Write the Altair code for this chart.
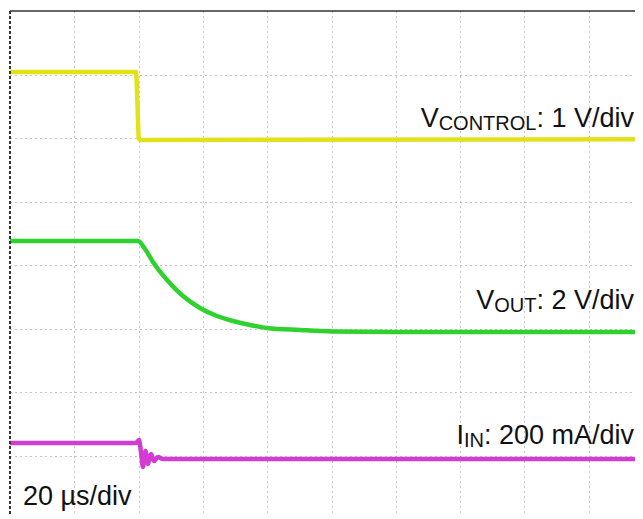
import altair as alt
import pandas as pd

# Oscilloscope screen, in divisions: x = 20 µs/div, y = 8 vertical divisions (0 = bottom)
ctrl_t = [0.0, 1.96, 1.97, 2.0, 2.02, 9.85]
ctrl_v = [7.04, 7.04, 6.90, 6.00, 5.97, 5.98]

vout_t = [0.0, 1.991, 2.100, 2.224, 2.442, 2.690, 2.955, 3.219, 3.468, 3.733, 3.997, 4.510, 5.023, 6.065, 9.85]
vout_v = [4.378, 4.378, 4.252, 4.047, 3.764, 3.512, 3.323, 3.197, 3.118, 3.055, 3.008, 2.976, 2.953, 2.945, 2.945]

iin_t = [0.0, 1.96, 2.006, 2.037, 2.068, 2.107, 2.146, 2.193, 2.240, 2.300, 2.380, 9.85]
iin_v = [1.197, 1.197, 1.244, 1.055, 0.819, 1.070, 0.866, 1.023, 0.913, 0.976, 0.945, 0.945]

series = ["VCONTROL", "VOUT", "IIN"]
colors = ["#e2e21c", "#2ed12e", "#d23cd2"]

x_grid = [1, 2, 3, 4, 5, 6, 7, 8, 9]
y_grid = [1, 2, 3, 4, 5, 6, 7]

def frame(name, t, v):
    return pd.DataFrame({"t": t, "v": v, "series": name, "order": range(len(t))})

W, H = 625, 505
PX_X, PX_Y = 64.3, 63.5
xs = alt.Scale(domain=[0, W / PX_X], nice=False, zero=False)
ys = alt.Scale(domain=[8 - H / PX_Y, 8], nice=False, zero=False)
cs = alt.Scale(domain=series, range=colors)

grid_axis = dict(grid=True, gridDash=[1, 4], gridColor="#8c8c8c", gridWidth=1,
                 labels=False, ticks=False, domain=False, title=None)

def trace(df, interp):
    return alt.Chart(df).mark_line(strokeWidth=4.5, clip=True, strokeJoin="round",
                                   interpolate=interp).encode(
        x=alt.X("t:Q", scale=xs, axis=alt.Axis(values=x_grid, **grid_axis)),
        y=alt.Y("v:Q", scale=ys, axis=alt.Axis(values=y_grid, **grid_axis)),
        color=alt.Color("series:N", scale=cs, legend=None),
        order="order:Q",
    )

ctrl = trace(frame("VCONTROL", ctrl_t, ctrl_v), "linear")
vout = trace(frame("VOUT", vout_t, vout_v), "monotone")
iin = trace(frame("IIN", iin_t, iin_v), "monotone")

dummy = alt.Data(values=[{"a": 1}])
top_line = alt.Chart(dummy).mark_rule(color="#333", strokeWidth=1.5).encode(
    x=alt.value(0), x2=alt.value(W), y=alt.value(0))
left_line = alt.Chart(dummy).mark_rule(color="#333", strokeWidth=2, strokeDash=[3, 2]).encode(
    x=alt.value(0), y=alt.value(0), y2=alt.value(H))

F, S = 27, 20
FONT = "Liberation Sans"
TXT = "#111"

def txt(s, x, y, size):
    return alt.Chart(dummy).mark_text(text=s, align="left", baseline="alphabetic",
                                      font=FONT, fontSize=size, color=TXT).encode(
        x=alt.value(x), y=alt.value(y))

def label(main, sub, rest, w_main, w_sub, w_rest, right, base):
    total = w_main * F + w_sub * S + w_rest * F
    x0 = right - total
    return [txt(main, x0, base, F),
            txt(sub, x0 + w_main * F, base + 3, S),
            txt(rest, x0 + w_main * F + w_sub * S, base, F)]

RIGHT = 624
texts = []
texts += label("V", "CONTROL", ": 1 V/div", 0.667, 4.889, 3.613, RIGHT, 116)
texts += label("V", "OUT", ": 2 V/div", 0.667, 2.111, 3.613, RIGHT, 298)
texts += label("I", "IN", ": 200 mA/div", 0.278, 1.0, 5.558, RIGHT, 433)
texts.append(txt("20 µs/div", 13, 494, F))

chart = alt.layer(ctrl, vout, iin, top_line, left_line, *texts).properties(
    width=W, height=H,
    autosize=alt.AutoSizeParams(type="none"),
    padding={"left": 2, "top": 3, "right": 0, "bottom": 0},
    background="white",
).configure_view(stroke=None)

chart.save("out.html", embed_options={"renderer": "svg", "actions": False})
